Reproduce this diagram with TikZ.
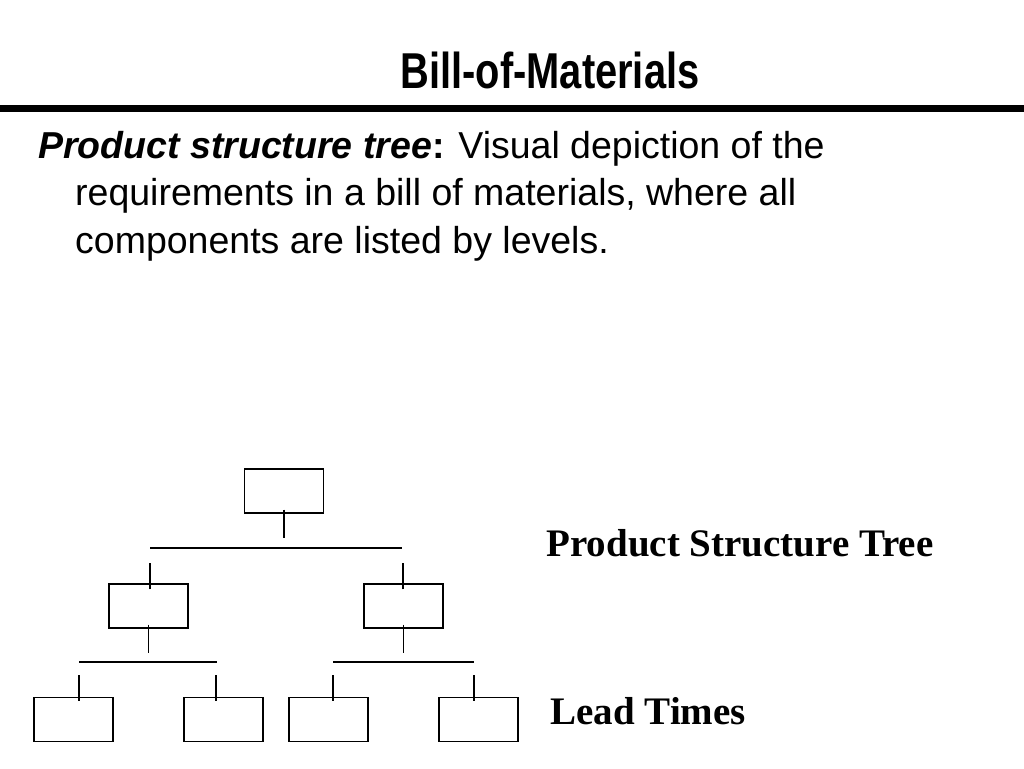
\documentclass[tikz,border=0pt]{standalone}
\usepackage{fontspec}
\setmainfont{Liberation Serif}
\newfontfamily\arial{Liberation Sans}
\begin{document}
\begin{tikzpicture}[x=1pt,y=-1pt,
  bx/.style={draw,line width=1.2pt,minimum width=79pt,minimum height=44pt,inner sep=0pt},
  ln/.style={line width=1.2pt}]
\useasboundingbox (0,0) rectangle (1024,768);
\node (title) at (550,70) {\arial\bfseries\fontsize{48}{52}\selectfont\scalebox{0.83}[1.05]{Bill-of-Materials}};
\draw[line width=7pt] (0,108) -- (1024,108);
\node[anchor=north west,align=left,inner sep=0pt,font=\arial\fontsize{37.5}{47.5}\selectfont] (txt) at (38,131) {%
\textbf{\textit{Product structure tree}}\textbf{:} Visual depiction of the\\
\hspace*{37pt}requirements in a bill of materials, where all\\
\hspace*{37pt}components are listed by levels.};
\node[anchor=west] (pst) at (543,543) {\bfseries\fontsize{39}{44}\selectfont Product Structure Tree};
\node[anchor=west] (lt) at (547,711) {\bfseries\fontsize{39}{44}\selectfont Lead Times};
\node[bx] (t) at (284,491) {};
\node[bx] (a) at (148.5,606) {};
\node[bx] (b) at (403.5,606) {};
\node[bx] (a1) at (73.5,719.5) {};
\node[bx] (a2) at (223.5,719.5) {};
\node[bx] (b1) at (328.5,719.5) {};
\node[bx] (b2) at (478.5,719.5) {};
\coordinate (h1l) at (150,548); \coordinate (h1r) at (402,548);
\coordinate (h2l) at (79,662); \coordinate (h2r) at (217,662);
\coordinate (h3l) at (333,662); \coordinate (h3r) at (474,662);
\draw[ln] ([yshift=4pt]t.south) -- ++(0,28);
\draw[ln] (h1l) -- (h1r);
\draw[ln] ([xshift=1.5pt,yshift=-6pt]a.north) -- ++(0,-26);
\draw[ln] ([xshift=-0.5pt,yshift=-6pt]b.north) -- ++(0,-26);
\draw[ln] ([yshift=4pt]a.south) -- ++(0,28);
\draw[ln] ([yshift=4pt]b.south) -- ++(0,28);
\draw[ln] (h2l) -- (h2r);
\draw[ln] (h3l) -- (h3r);
\draw[ln] ([xshift=5.5pt,yshift=-4pt]a1.north) -- ++(0,-26);
\draw[ln] ([xshift=-7.5pt,yshift=-4pt]a2.north) -- ++(0,-26);
\draw[ln] ([xshift=4.5pt,yshift=-4pt]b1.north) -- ++(0,-26);
\draw[ln] ([xshift=-4.5pt,yshift=-4pt]b2.north) -- ++(0,-26);
\end{tikzpicture}
\end{document}
